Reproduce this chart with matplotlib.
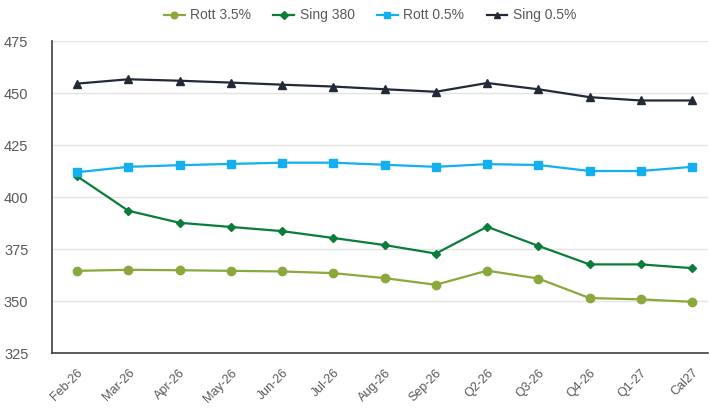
import matplotlib
matplotlib.use('Agg')
import matplotlib.pyplot as plt
import numpy as np

plt.rcParams['font.family'] = ['Liberation Sans', 'DejaVu Sans']

# periodi e prezzi
periodi = ['Feb-26', 'Mar-26', 'Apr-26', 'May-26', 'Jun-26', 'Jul-26', 'Aug-26',
           'Sep-26', 'Q2-26', 'Q3-26', 'Q4-26', 'Q1-27', 'Cal27']
rott_35 = [364.5, 365.0, 364.8, 364.5, 364.2, 363.4, 361.0, 357.8, 364.6, 360.8, 351.4, 350.8, 349.6]
sing_380 = [410.0, 393.4, 387.6, 385.6, 383.6, 380.3, 376.9, 372.8, 385.7, 376.5, 367.6, 367.6, 365.8]
rott_05 = [411.9, 414.5, 415.3, 415.9, 416.5, 416.5, 415.5, 414.5, 415.8, 415.4, 412.5, 412.5, 414.5]
sing_05 = [454.5, 456.6, 455.9, 455.0, 454.0, 453.1, 451.8, 450.6, 454.8, 451.8, 448.0, 446.4, 446.4]

x = np.arange(len(periodi))

fig = plt.figure(figsize=[7.1, 4.08], dpi=100)
ax = fig.add_axes([52/710, 55/408, 656/710, 312/408])

ax.plot(x, rott_35, color='#8aa83c', marker='o', markersize=6, linewidth=1.6, label='Rott 3.5%')
ax.plot(x, sing_380, color='#0b7d3a', marker='D', markersize=4.5, linewidth=1.6, label='Sing 380')
ax.plot(x, rott_05, color='#12b0ee', marker='s', markersize=6, linewidth=1.6, label='Rott 0.5%')
ax.plot(x, sing_05, color='#222a38', marker='^', markersize=6, linewidth=1.6, label='Sing 0.5%')

ax.set_ylim(325, 475)
ax.set_yticks(range(325, 476, 25))
ax.set_xlim(-0.488, 12.31)
ax.set_xticks(x)
ax.set_xticklabels(periodi, rotation=45, ha='right', rotation_mode='anchor', fontsize=9, color='#595959')
ax.tick_params(axis='y', labelsize=10.5, labelcolor='#595959', length=0, pad=17)
ax.tick_params(axis='x', length=0, pad=10)

ax.grid(axis='y', color='#e3e3e3', linewidth=1)
ax.set_axisbelow(True)
for s in ['top', 'right']:
    ax.spines[s].set_visible(False)
for s in ['left', 'bottom']:
    ax.spines[s].set_color('#404040')
    ax.spines[s].set_linewidth(1.2)

leg = fig.legend(loc='upper center', bbox_to_anchor=(370/710, 1.01), ncol=4, frameon=False,
                 fontsize=10, handlelength=1.5, columnspacing=1.6, handletextpad=0.4,
                 markerscale=0.8, labelcolor='#595959')

plt.savefig('out.png', dpi=100)
